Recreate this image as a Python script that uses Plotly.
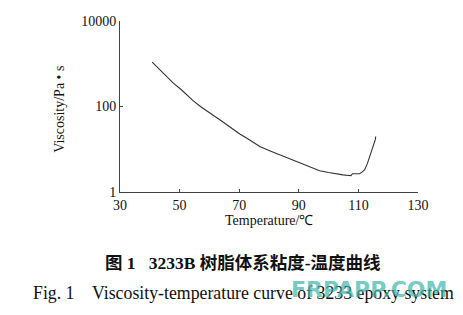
import plotly.graph_objects as go

temperature = [40.8, 44.0, 47.9, 50.5, 52.4, 54.6, 57.0, 59.1, 61.5, 63.5, 65.2, 66.9, 68.6,
               70.2, 73.0, 75.0, 76.9, 80.0, 83.6, 87.0, 90.3, 93.5, 97.0, 100.0, 102.6,
               104.8, 106.8, 107.5, 108.0, 109.2, 110.4, 111.3, 112.1, 113.0, 113.8,
               114.9, 115.5, 115.7, 115.8]
viscosity = [1090, 650, 352, 250, 185, 135, 100, 78, 61, 49, 40, 34, 28,
             22.7, 17.3, 14.2, 11.6, 9.4, 7.4, 5.9, 4.76, 3.9, 3.15, 2.85, 2.63,
             2.52, 2.44, 2.42, 2.68, 2.66, 2.68, 2.95, 3.32, 4.6, 6.8,
             11.6, 14.5, 17.0, 19.9]

x_ticks = [30, 50, 70, 90, 110, 130]
y_ticks = [1, 100, 10000]
y_tick_labels = ["1", "100", "10000"]

W, H = 463, 315
L, R, T, B = 120, 418, 21, 192.3

def py(pix):
    return (B - pix) / (B - T)

def px(pix):
    return (pix - L) / (R - L)

serif = "Liberation Serif, Times New Roman, serif"

fig = go.Figure()
fig.add_trace(go.Scatter(x=temperature, y=viscosity, mode="lines",
                         line=dict(color="#333333", width=1.1), showlegend=False))

fig.update_layout(
    width=W, height=H,
    margin=dict(l=L, r=W - R, t=T, b=H - B),
    paper_bgcolor="white", plot_bgcolor="white",
    font=dict(family=serif, size=14, color="#111111"),
    xaxis=dict(range=[30, 130], tickvals=x_ticks, ticks="inside", ticklen=3,
               tickcolor="#444", showline=True, linecolor="#444", linewidth=1,
               showgrid=False, zeroline=False, tickfont=dict(size=14)),
    yaxis=dict(type="log", range=[0, 4], tickvals=y_ticks, ticktext=y_tick_labels,
               ticks="inside", ticklen=3, tickcolor="#444", showline=True,
               linecolor="#444", linewidth=1, showgrid=False, zeroline=False,
               tickfont=dict(size=14)),
)

ann = [
    dict(text="Temperature/℃", x=px(269), y=py(221), font=dict(size=14)),
    dict(text="Viscosity/Pa • s", x=px(60), y=py(110), textangle=-90, font=dict(size=14)),
    dict(text="<b>图 1   3233B 树脂体系粘度-温度曲线</b>", x=px(243), y=py(263),
         font=dict(size=17.5, family="Liberation Serif, Noto Sans CJK SC")),
    dict(text="Fig. 1    Viscosity-temperature curve of 3233 epoxy system", x=px(243), y=py(293),
         font=dict(size=17.8)),
    dict(text="<b>FRPAPP.COM</b>", x=px(369), y=py(290),
         font=dict(size=22, family="DejaVu Sans, sans-serif", color="rgba(60,180,170,0.7)")),
]
for a in ann:
    a.update(xref="paper", yref="paper", showarrow=False, xanchor="center", yanchor="middle")
    fig.add_annotation(**a)

fig.write_html("out.html")
